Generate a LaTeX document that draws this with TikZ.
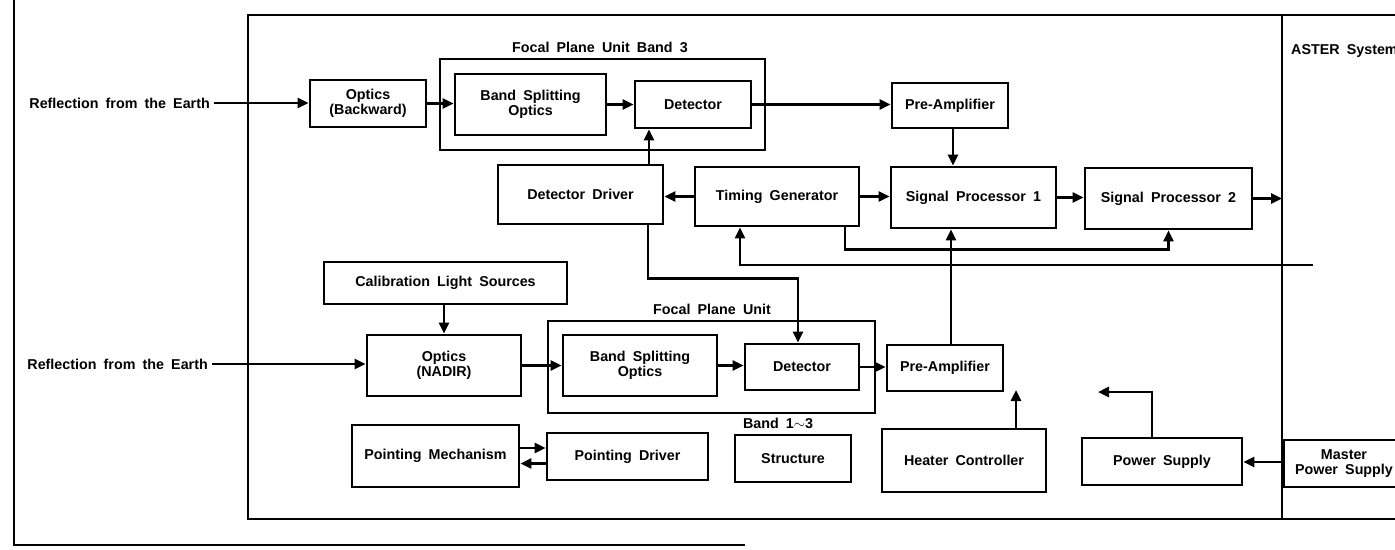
\documentclass[tikz,border=0pt]{standalone}
\usepackage{fontspec}
\setmainfont{Liberation Sans}[WordSpace=1.8]
\usetikzlibrary{arrows.meta}
\newcommand\blkfont{\fontsize{14.3}{14.8}\selectfont\bfseries}
\tikzset{
  blk/.style={draw, line width=2.8pt, font=\blkfont, align=center, inner sep=2pt},
  grp/.style={draw, line width=2.8pt},
  wh/.style 2 args={minimum width=#1pt, minimum height=#2pt},
  conn/.style={line width=2.6pt},
  arr/.style={conn, -{Triangle[length=11pt,width=10pt]}},
  lbl/.style={font=\blkfont, inner sep=2pt}
}
\begin{document}
\begin{tikzpicture}[x=1pt,y=-1pt]
\useasboundingbox (0,0) rectangle (1395,549);
% page frame and main box
\draw[line width=2pt] (14,-2) -- (14,545) -- (745,545);
\draw[grp] (1400,15) -- (248,15) -- (248,519) -- (1400,519);
\coordinate (dtop) at (1282,15);
\coordinate (dbot) at (1282,520);
\draw[grp] (dtop) -- (dbot);
\node[lbl, anchor=west] (aster) at (1289,51) {ASTER System};

% containers
\node[grp, wh={325}{91}] (fpu3) at (602.5,104.5) {};
\node[lbl] (fpu3l) at (600,47) {Focal Plane Unit Band 3};
\node[grp, wh={327}{92}] (fpu) at (711.5,367) {};
\node[lbl] (fpul) at (712,309) {Focal Plane Unit};
\node[lbl] (bandl) at (778,423) {Band 1$\sim$3};

% row 1
\node[lbl, anchor=east, inner sep=4pt] (refl1) at (214,103) {Reflection from the Earth};
\node[blk, wh={116}{47}] (optB) at (368,103.5) {Optics\\(Backward)};
\node[blk, wh={151}{61}] (bso1) at (530.5,104.5) {Band Splitting\\Optics};
\node[blk, wh={116}{47}] (det1) at (693,104.5) {Detector};
\node[blk, wh={116}{45}] (pa1) at (950,105.5) {Pre-Amplifier};

% row 2
\node[blk, wh={165}{59}] (dd) at (580.5,194.5) {Detector Driver};
\node[blk, wh={164}{59}] (tg) at (777,196.5) {Timing Generator};
\node[blk, wh={165}{61}] (sp1) at (973.5,197.5) {Signal Processor 1};
\node[blk, wh={167}{61}] (sp2) at (1168.5,198.5) {Signal Processor 2};

% row 3
\node[blk, wh={243}{42}] (cls) at (445.5,283) {Calibration Light Sources};
\node[lbl, anchor=east, inner sep=4pt] (refl2) at (212,364) {Reflection from the Earth};
\node[blk, wh={154}{61}] (optN) at (444,365.5) {Optics\\(NADIR)};
\node[blk, wh={154}{61}] (bso2) at (640,365.5) {Band Splitting\\Optics};
\node[blk, wh={114}{46}] (det2) at (802,367) {Detector};
\node[blk, wh={116}{46}] (pa2) at (945,368) {Pre-Amplifier};

% row 4
\node[blk, wh={167}{62}] (pm) at (435.5,456) {Pointing Mechanism};
\node[blk, wh={161}{47}] (pd) at (627.5,456.5) {Pointing Driver};
\node[blk, wh={116}{47}] (st) at (793,458.5) {Structure};
\node[blk, wh={164}{63}] (hc) at (964,460.5) {Heater Controller};
\node[blk, wh={160}{47}] (ps) at (1162,461.5) {Power Supply};
\node[blk, wh={120}{47}] (mps) at (1344,463.5) {Master\\Power Supply};

% free ends
\coordinate (tgin) at (1313,265);
\coordinate (hcend) at (1016,390);
\coordinate (psend) at (1098,392);

% connectors row 1
\draw[arr] (refl1.east) -- (optB.west |- refl1.east);
\draw[arr] (optB.east) -- (bso1.west |- optB.east);
\draw[arr] (bso1.east) -- (det1.west |- bso1.east);
\draw[arr] (det1.east) -- (pa1.west |- det1.east);
% row 2
\draw[arr] ([xshift=68.5pt]dd.north) -- ([xshift=68.5pt]dd.north |- det1.south);
\draw[arr] (tg.west) -- (dd.east |- tg.west);
\draw[arr] (tg.east) -- (sp1.west |- tg.east);
\draw[arr] (sp1.east) -- (sp2.west |- sp1.east);
\draw[arr] (sp2.east) -- (sp2.east -| dtop);
\draw[arr] ([xshift=3pt]pa1.south) -- ([xshift=3pt]pa1.south |- sp1.north);
\draw[arr] ([xshift=68pt]tg.south) -- ++(0,22) -| (sp2.south);
\draw[arr] (tgin) -| ([xshift=-37pt]tg.south);
\draw[arr] ([xshift=67.5pt]dd.south) -- ++(0,53) -| ([xshift=-4pt]det2.north);
% row 3
\draw[arr] (optN.north |- cls.south) -- (optN.north);
\draw[arr] (refl2.east) -- (optN.west |- refl2.east);
\draw[arr] (optN.east) -- (bso2.west |- optN.east);
\draw[arr] (bso2.east) -- (det2.west |- bso2.east);
\draw[arr] (det2.east) -- (pa2.west |- det2.east);
\draw[arr] ([xshift=6pt]pa2.north) -- ([xshift=6pt]pa2.north |- sp1.south);
% row 4
\draw[arr] ([yshift=8pt]pm.east) -- ([yshift=8pt]pm.east -| pd.west);
\draw[arr] ([yshift=-7pt]pd.west) -- ([yshift=-7pt]pd.west -| pm.east);
\draw[arr] (hc.north -| hcend) -- (hcend);
\draw[arr] (ps.north -| 1152,0) |- (psend);
\draw[arr] (mps.west |- 0,462) -- (ps.east |- 0,462);
\end{tikzpicture}
\end{document}
